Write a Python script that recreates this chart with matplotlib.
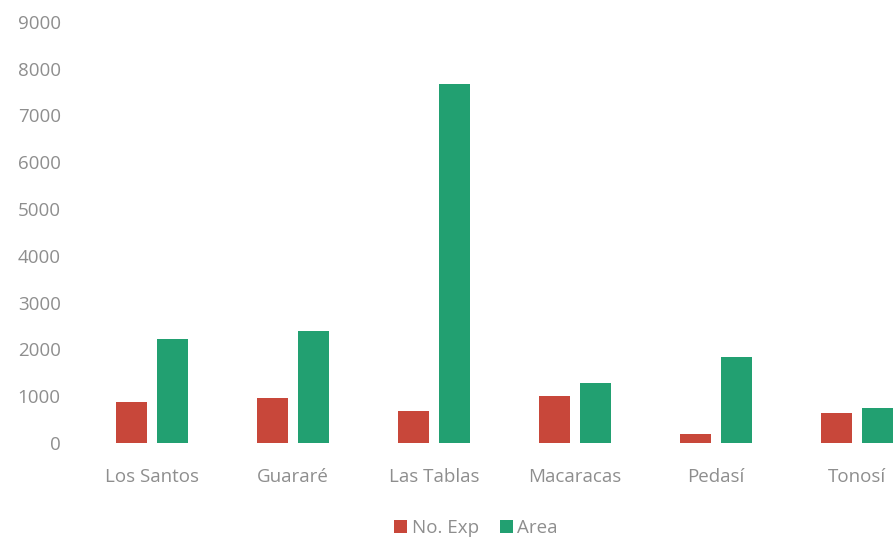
import matplotlib
matplotlib.use("Agg")
import matplotlib.pyplot as plt
import numpy as np

categories = ["Los Santos", "Guararé", "Las Tablas", "Macaracas", "Pedasí", "Tonosí"]
no_exp = [880, 965, 690, 1010, 190, 645]
area = [2215, 2400, 7670, 1275, 1830, 755]
y_ticks = [0, 1000, 2000, 3000, 4000, 5000, 6000, 7000, 8000, 9000]

RED = "#C8473A"
GREEN = "#22A071"
TXT = "#8E8E8E"

plt.rcParams["font.family"] = ["Open Sans", "DejaVu Sans"]

fig = plt.figure(figsize=(8.94, 5.4), dpi=100)
ax = fig.add_axes([81.5 / 894, 1 - 443 / 540, 846 / 894, (443 - 21.7) / 540])

x = np.arange(len(categories))
w = 0.22
off = 0.142
ax.bar(x - off, no_exp, width=w, color=RED, label="No. Exp")
ax.bar(x + off, area, width=w, color=GREEN, label="Area")

ax.set_xlim(-0.5, len(categories) - 0.5)
ax.set_ylim(0, 9000)
ax.set_yticks(y_ticks)
ax.set_yticklabels([str(v) for v in y_ticks])
ax.set_xticks(x)
ax.set_xticklabels(categories)
ax.tick_params(axis="both", length=0, colors=TXT, labelsize=13.5)
ax.tick_params(axis="x", pad=18)
ax.tick_params(axis="y", pad=15)
for s in ax.spines.values():
    s.set_visible(False)

fig.legend(loc="center", bbox_to_anchor=(476 / 894, 1 - 528 / 540), ncol=2,
           frameon=False, fontsize=13.5, labelcolor=TXT, handlelength=0.7,
           handleheight=0.7, handletextpad=0.25, columnspacing=1.1)

fig.savefig("out.png", dpi=100)
